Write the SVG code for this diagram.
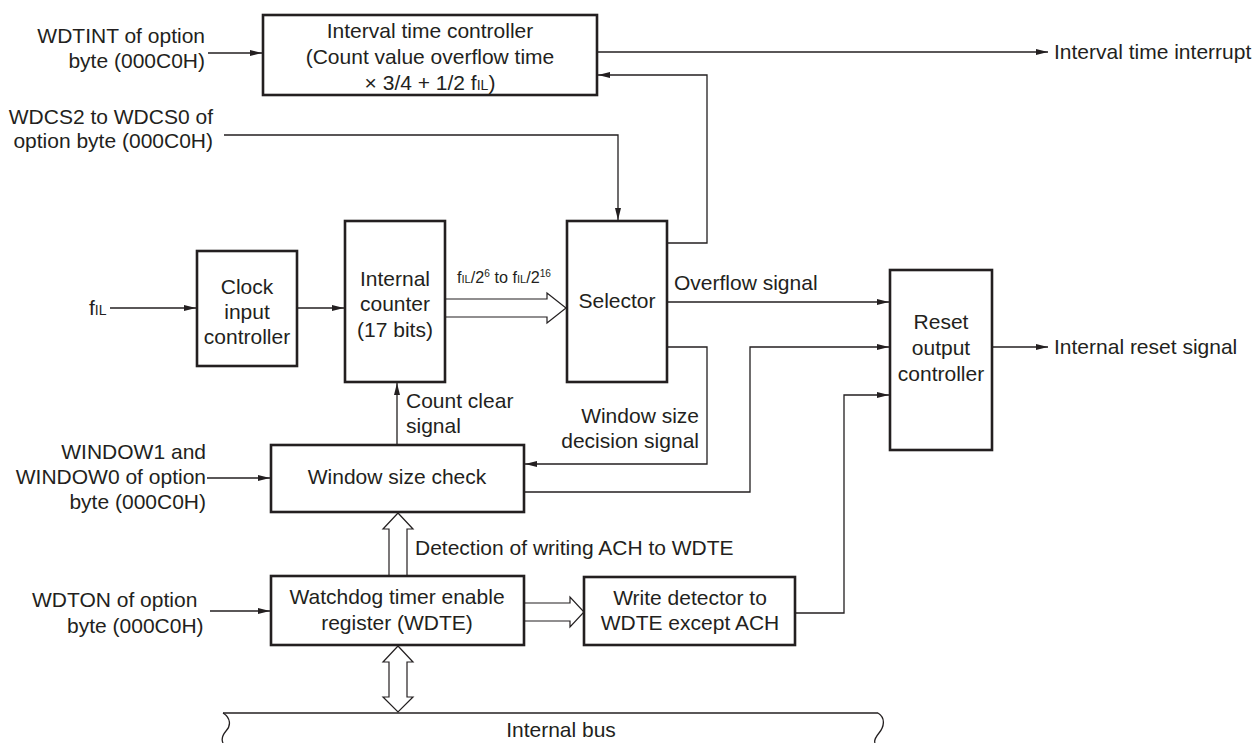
<svg xmlns="http://www.w3.org/2000/svg" width="1254" height="743" viewBox="0 0 1254 743">
<style>
text{font-family:"Liberation Sans",Arial,sans-serif;font-size:21px;fill:#231f20}
.m{text-anchor:middle}
.e{text-anchor:end}
.box{fill:#fff;stroke:#231f20;stroke-width:2.6}
.ln{fill:none;stroke:#231f20;stroke-width:1.3}
.ha{fill:#fff;stroke:#231f20;stroke-width:1.2}
.s{font-size:14px}
</style>
<defs>
<marker id="ah" markerUnits="userSpaceOnUse" markerWidth="13" markerHeight="6" refX="12" refY="3" orient="auto">
<path d="M0,0 L12,3 L0,6 Z" fill="#231f20"/>
</marker>
</defs>
<rect width="1254" height="743" fill="#fff"/>

<g id="connectors">
<path class="ln" d="M208,53 H262" marker-end="url(#ah)"/>
<path class="ln" d="M597,52 H1048" marker-end="url(#ah)"/>
<path class="ln" d="M224,135 H618 V220" marker-end="url(#ah)"/>
<path class="ln" d="M667,243 H707 V75 H598" marker-end="url(#ah)"/>
<path class="ln" d="M110,308 H196" marker-end="url(#ah)"/>
<path class="ln" d="M297,308 H344" marker-end="url(#ah)"/>
<path class="ha" d="M445,299 H547 V293 L566,308 L547,323 V317 H445"/>
<path class="ln" d="M667,302 H889" marker-end="url(#ah)"/>
<path class="ln" d="M667,347 H707 V464 H525" marker-end="url(#ah)"/>
<path class="ln" d="M524,492 H750 V347 H889" marker-end="url(#ah)"/>
<path class="ln" d="M795,613 H844 V395 H889" marker-end="url(#ah)"/>
<path class="ln" d="M992,347 H1048" marker-end="url(#ah)"/>
<path class="ln" d="M397,445 V383" marker-end="url(#ah)"/>
<path class="ln" d="M207,478 H270" marker-end="url(#ah)"/>
<path class="ln" d="M210,611 H270" marker-end="url(#ah)"/>
<path class="ha" d="M389,576 V529 H383 L398,513 L413,529 H407 V576"/>
<path class="ha" d="M524,603 H570 V597 L584,612 L570,627 V621 H524"/>
<path class="ha" d="M398,646 L413,662 H407 V697 H413 L398,712 L383,697 H389 V662 H383 Z"/>
</g>

<g id="labels">
<text class="e" x="205" y="43">WDTINT of option</text>
<text class="e" x="205" y="68">byte (000C0H)</text>
<text class="e" x="213" y="124">WDCS2 to WDCS0 of</text>
<text class="e" x="213" y="148">option byte (000C0H)</text>
<text x="89" y="315">f<tspan class="s">IL</tspan></text>
<text x="457" y="283" style="font-size:16px" textLength="94" lengthAdjust="spacingAndGlyphs">f<tspan style="font-size:11px">IL</tspan>/2<tspan style="font-size:10px" dy="-6">6</tspan><tspan dy="6"> to f</tspan><tspan style="font-size:11px">IL</tspan>/2<tspan style="font-size:10px" dy="-6">16</tspan></text>
<text x="674" y="290">Overflow signal</text>
<text x="1054" y="59">Interval time interrupt</text>
<text x="1054" y="354">Internal reset signal</text>
<text x="406" y="408">Count clear</text>
<text x="406" y="433">signal</text>
<text class="e" x="699" y="423">Window size</text>
<text class="e" x="699" y="448">decision signal</text>
<text class="e" x="206" y="459">WINDOW1 and</text>
<text class="e" x="206" y="484">WINDOW0 of option</text>
<text class="e" x="206" y="509">byte (000C0H)</text>
<text x="415" y="555">Detection of writing ACH to WDTE</text>
<text x="32" y="607">WDTON of option</text>
<text x="67" y="633">byte (000C0H)</text>
</g>

<g id="interval-time-controller">
<rect class="box" x="263" y="15" width="334" height="80"/>
<text class="m" x="430" y="38">Interval time controller</text>
<text class="m" x="430" y="64">(Count value overflow time</text>
<text class="m" x="430" y="90">× 3/4 + 1/2 f<tspan class="s">IL</tspan>)</text>
</g>

<g id="clock-input-controller">
<rect class="box" x="197" y="251" width="100" height="115"/>
<text class="m" x="247" y="294">Clock</text>
<text class="m" x="247" y="319">input</text>
<text class="m" x="247" y="344">controller</text>
</g>

<g id="internal-counter">
<rect class="box" x="345" y="221" width="100" height="161"/>
<text class="m" x="395" y="286">Internal</text>
<text class="m" x="395" y="311">counter</text>
<text class="m" x="395" y="337">(17 bits)</text>
</g>

<g id="selector">
<rect class="box" x="567" y="221" width="100" height="161"/>
<text class="m" x="617" y="308">Selector</text>
</g>

<g id="reset-output-controller">
<rect class="box" x="890" y="270" width="102" height="180"/>
<text class="m" x="941" y="329">Reset</text>
<text class="m" x="941" y="355">output</text>
<text class="m" x="941" y="381">controller</text>
</g>

<g id="window-size-check">
<rect class="box" x="271" y="445" width="253" height="67"/>
<text class="m" x="397" y="484">Window size check</text>
</g>

<g id="watchdog-timer-enable-register">
<rect class="box" x="271" y="576" width="253" height="69"/>
<text class="m" x="397" y="604">Watchdog timer enable</text>
<text class="m" x="397" y="630">register (WDTE)</text>
</g>

<g id="write-detector">
<rect class="box" x="584" y="577" width="211" height="68"/>
<text class="m" x="690" y="605">Write detector to</text>
<text class="m" x="690" y="630">WDTE except ACH</text>
</g>

<g id="internal-bus">
<path class="ln" d="M223,713 H878"/>
<path class="ln" d="M223,713 C231,718 231,726 226,731 C221,737 222,741 223,743"/>
<path class="ln" d="M878,713 C886,718 884,727 879,733 C875,738 874,741 875,743"/>
<text class="m" x="561" y="737">Internal bus</text>
</g>
</svg>
